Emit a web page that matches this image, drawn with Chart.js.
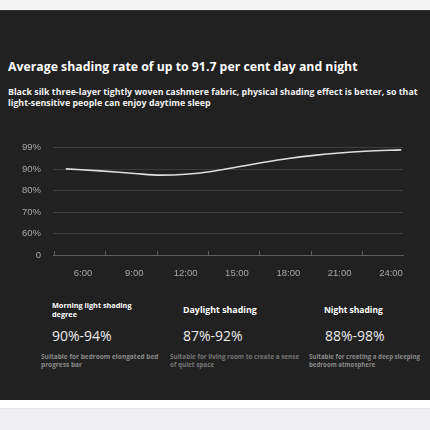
<!DOCTYPE html>
<html>
<head>
<meta charset="utf-8">
<script src="https://cdn.jsdelivr.net/npm/chart.js@4/dist/chart.umd.min.js"></script>
<style>
  html, body { margin: 0; padding: 0; }
  body { width: 430px; height: 430px; background: #efeff1; position: relative; overflow: hidden; font-family: "Open Sans", sans-serif; }
  .top-strip { position: absolute; left: 0; top: 0; width: 430px; height: 10px; background: #f4f4f4; }
  .panel { position: absolute; left: 0; top: 10px; width: 430px; height: 390px; background: #212121; border-top: 1px solid #333; box-sizing: border-box; }
  .white-strip { position: absolute; left: 0; top: 400px; width: 430px; height: 8px; background: #fff; border-bottom: 1px solid #e6e6e6; }
  .sx { position: absolute; white-space: nowrap; transform-origin: left top; }
  .title { left: 8px; top: 58px; color: #fff; font-weight: 700; font-size: 12.6px; transform: scaleX(0.975); }
  .sub { left: 8px; top: 86px; color: #f2f2f2; font-weight: 700; font-size: 9.6px; line-height: 11px; transform: scaleX(0.92); }
  #chartBox { position: absolute; left: 0; top: 130px; width: 430px; height: 155px; }
  .head { color: #fff; font-weight: 700; }
  .pct { font-size: 14px; color: #ececec; }
  .note { font-weight: 700; font-size: 7.2px; line-height: 8px; color: #8a8a8a; transform: scaleX(0.91); }
</style>
</head>
<body>
<div class="top-strip"></div>
<div class="panel"></div>
<div class="white-strip"></div>

<div class="sx title">Average shading rate of up to 91.7 per cent day and night</div>
<div class="sx sub">Black silk three-layer tightly woven cashmere fabric, physical shading effect is better, so that<br>light-sensitive people can enjoy daytime sleep</div>

<div id="chartBox"><canvas id="myChart"></canvas></div>

<div class="sx head" style="left:52px; top:301px; font-size:7.6px; line-height:8.5px; transform:scaleX(0.96);">Morning light shading<br>degree</div>
<div class="sx pct" style="left:52px; top:326px;">90%-94%</div>
<div class="sx note" style="left:41px; top:352px;">Suitable for bedroom elongated bed<br>progress bar</div>

<div class="sx head" style="left:183px; top:303px; font-size:9.6px; transform:scaleX(0.92);">Daylight shading</div>
<div class="sx pct" style="left:183px; top:326px;">87%-92%</div>
<div class="sx note" style="left:170px; top:352px; color:#777; transform:scaleX(0.88);">Suitable for living room to create a sense<br>of quiet space</div>

<div class="sx head" style="left:324px; top:303px; font-size:9.6px; transform:scaleX(0.88);">Night shading</div>
<div class="sx pct" style="left:325px; top:326px;">88%-98%</div>
<div class="sx note" style="left:309px; top:352px; transform:scaleX(0.85);">Suitable for creating a deep sleeping<br>bedroom atmosphere</div>

<script>
  // values
  const hours = [5, 7, 9, 10.5, 12, 13.5, 15, 16.5, 18, 19.5, 21, 22.5, 24.6];
  const shading = [90.1, 89.2, 88.0, 87.2, 87.6, 88.9, 90.9, 92.8, 94.5, 95.8, 96.8, 97.5, 98.1];

  const hourLabels = [6, 9, 12, 15, 18, 21, 24];
  const markHours = [4.3, 7.3, 10.3, 13.3, 16.3, 19.3, 22.3];

  const yTickValues = [0, 60, 70, 80, 90, 99];
  const yTickLabels = ['0', '60%', '70%', '80%', '90%', '99%'];

  // the y axis is not linear: each labelled step takes the same space
  const toLevel = (pct) => {
    for (let i = 1; i < yTickValues.length; i++) {
      if (pct <= yTickValues[i] || i === yTickValues.length - 1) {
        const lo = yTickValues[i - 1];
        const hi = yTickValues[i];
        return i - 1 + (pct - lo) / (hi - lo);
      }
    }
  };

  const axisMarks = {
    id: 'axisMarks',
    afterDatasetsDraw(chart) {
      const { ctx, scales: { x, y } } = chart;
      const base = y.getPixelForValue(0);
      ctx.save();
      ctx.strokeStyle = '#5c5c5c';
      ctx.lineWidth = 1;
      ctx.beginPath();
      for (const h of markHours) {
        const px = Math.round(x.getPixelForValue(h)) + 0.5;
        ctx.moveTo(px, base);
        ctx.lineTo(px, base - 4);
      }
      ctx.stroke();
      ctx.restore();
    },
  };

  const initChart = () => {
    const ctx = document.getElementById('myChart').getContext('2d');

    const chart = new Chart(ctx, {
      type: 'line',
      data: {
        datasets: [
          {
            label: 'Shading rate',
            data: hours.map((h, i) => ({ x: h, y: toLevel(shading[i]) })),
            borderColor: '#dedede',
            borderWidth: 1.6,
            pointRadius: 0,
            cubicInterpolationMode: 'monotone',
            fill: false,
          },
        ],
      },
      options: {
        responsive: true,
        maintainAspectRatio: false,
        animation: false,
        layout: { padding: { top: 0, right: 27, left: 0, bottom: 0 } },
        plugins: {
          legend: { display: false },
          tooltip: { enabled: false },
        },
        scales: {
          x: {
            type: 'linear',
            min: 4.25,
            max: 24.7,
            afterBuildTicks: (scale) => {
              scale.ticks = hourLabels.map((v) => ({ value: v }));
            },
            afterFit: (scale) => {
              scale.height = 30;
            },
            grid: { display: false, drawTicks: false },
            border: { display: true, color: '#5c5c5c', width: 1 },
            ticks: {
              padding: 13,
              color: '#a8a8a8',
              font: { family: 'Liberation Sans', size: 9.5 },
              maxRotation: 0,
              callback: (v) => v + ':00',
            },
          },
          y: {
            min: 0,
            max: 5,
            afterFit: (scale) => {
              scale.width = 53;
            },
            grid: {
              drawTicks: false,
              color: (c) => (c.tick && c.tick.value === 0 ? 'rgba(0,0,0,0)' : '#3d3d3d'),
              lineWidth: 1,
            },
            border: { display: false },
            ticks: {
              stepSize: 1,
              padding: 12,
              color: '#a8a8a8',
              font: { family: 'Liberation Sans', size: 9.5 },
              callback: (v) => yTickLabels[v],
            },
          },
        },
      },
      plugins: [axisMarks],
    });
  };

  initChart();
</script>
</body>
</html>
